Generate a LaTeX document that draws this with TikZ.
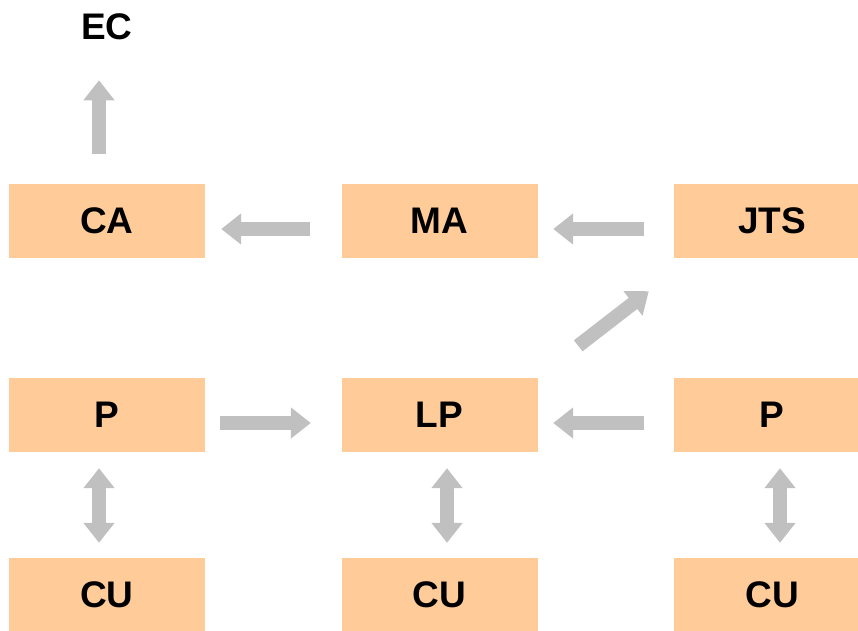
\documentclass[tikz,border=0pt]{standalone}
\usepackage{fontspec}
\setmainfont{Liberation Sans}
\usetikzlibrary{arrows.meta,calc}
\definecolor{boxpeach}{HTML}{FFCC99}
\definecolor{arrowgray}{HTML}{C0C0C0}

\begin{document}
\begin{tikzpicture}[x=1pt, y=1pt,
  box/.style={fill=boxpeach, minimum width=196pt, minimum height=74pt, inner sep=0pt, font=\fontsize{37}{44}\selectfont\bfseries},
  flow/.style={draw=arrowgray, line width=14pt, -{Triangle[width=30pt,length=20pt]}},
  both/.style={draw=arrowgray, line width=14pt, {Triangle[width=30pt,length=20pt]}-{Triangle[width=30pt,length=20pt]}}]

\clip (0,0) rectangle (858,630);

\node[inner sep=0pt, font=\fontsize{37}{44}\selectfont\bfseries] (ec) at (107, 603) {EC};

\node[box] (ca) at (107, 409) {CA};
\node[box] (ma) at (439.5, 409) {MA};
\node[box] (jts) at (772, 409) {JTS};

\node[box] (pl) at (107, 215) {P};
\node[box] (lp) at (439.5, 215) {LP};
\node[box] (pr) at (772, 215) {P};

\node[box] (cul) at (107, 35) {CU};
\node[box] (cum) at (439.5, 35) {CU};
\node[box] (cur) at (772, 35) {CU};

\draw[flow, shorten <=30pt, shorten >=40pt] ([xshift=-8pt]ca.north) -- ([xshift=-8pt]ec.south);

\draw[flow, shorten <=31pt, shorten >=16pt] ([yshift=-8pt]ma.west) -- ([yshift=-8pt]ca.east);
\draw[flow, shorten <=30pt, shorten >=15.5pt] ([yshift=-8pt]jts.west) -- ([yshift=-8pt]ma.east);

\draw[flow, shorten <=15pt, shorten >=30.5pt] ([yshift=-8pt]pl.east) -- ([yshift=-8pt]lp.west);
\draw[flow, shorten <=30pt, shorten >=15.5pt] ([yshift=-8pt]pr.west) -- ([yshift=-8pt]lp.east);

\draw[flow] ($(lp.north east)+(40.5,32)$) -- ($(jts.south west)+(-25,-33)$);

\draw[both, shorten <=16pt, shorten >=15pt] ([xshift=-8pt]pl.south) -- ([xshift=-8pt]cul.north);
\draw[both, shorten <=16pt, shorten >=15pt] ([xshift=7.5pt]lp.south) -- ([xshift=7.5pt]cum.north);
\draw[both, shorten <=16pt, shorten >=15pt] ([xshift=8pt]pr.south) -- ([xshift=8pt]cur.north);

\end{tikzpicture}
\end{document}
